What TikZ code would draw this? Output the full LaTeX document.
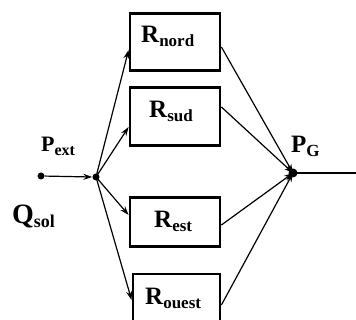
\documentclass[tikz,border=0pt]{standalone}
\usepackage{fontspec}
\setmainfont{Liberation Serif}
\usetikzlibrary{arrows.meta}
\newcommand\mysub[2][17]{\raisebox{-4pt}{\fontsize{#1}{#1}\selectfont #2}}
\begin{document}
\begin{tikzpicture}[x=1pt,y=-1pt,
  box/.style={draw, line width=2.8pt, minimum width=90pt, inner sep=0pt},
  lbl/.style={font=\bfseries\fontsize{25}{29}\selectfont, inner sep=0pt, anchor=base west},
  dot/.style={circle, fill, inner sep=0pt, minimum size=7pt},
  conn/.style={line width=1.2pt, -{Stealth[length=9pt,width=6pt]}},
  plainline/.style={line width=1.2pt}]
\useasboundingbox (0,0) rectangle (356,320);
\clip (0,0) rectangle (356,320);
% boxes
\node[box, minimum height=57pt] (nord) at (175,42) {};
\node[box, minimum height=58pt] (sud) at (175,116.5) {};
\node[box, minimum height=49pt] (est) at (175,222) {};
\node[box, minimum width=87pt, minimum height=66pt] (ouest) at (176.5,307) {};
% box labels
\node[lbl] (tnord) at (141,43) {R\mysub{nord}};
\node[lbl] (tsud) at (149,118) {R\mysub{sud}};
\node[lbl] (test) at (154,228) {R\mysub{est}};
\node[lbl] (touest) at (145,305) {R\mysub{ouest}};
% junctions
\node[dot] (src) at (41,176) {};
\node[dot] (J) at (96,177) {};
\node[dot, minimum size=9pt] (PG) at (293,173) {};
\coordinate (out) at (356,173);
% other labels
\node[lbl, font=\bfseries\fontsize{22}{26}\selectfont] (pext) at (41,152) {P\mysub[16]{ext}};
\node[lbl, font=\bfseries\fontsize{28}{32}\selectfont] (qsol) at (12,224) {Q\mysub[18]{sol}};
\node[lbl] (pg) at (291,153) {P\mysub{G}};
% connectors
\draw[conn] (src) -- (J.west);
\draw[conn] (J.center) -- ([yshift=-8pt]nord.west);
\draw[conn] (J.center) -- ([yshift=-10.5pt]sud.west);
\draw[conn] (J.center) -- ([yshift=7pt]est.west);
\draw[conn] (J.center) -- ([yshift=7pt]ouest.west);
\draw[conn] ([yshift=-5pt]nord.east) -- (PG.center);
\draw[conn] ([yshift=9.5pt]sud.east) -- (PG.center);
\draw[conn] ([yshift=-3pt]est.east) -- (PG.center);
\draw[conn] ([yshift=2pt]ouest.east) -- (PG.center);
\draw[plainline] (PG.center) -- (out);
\end{tikzpicture}
\end{document}
